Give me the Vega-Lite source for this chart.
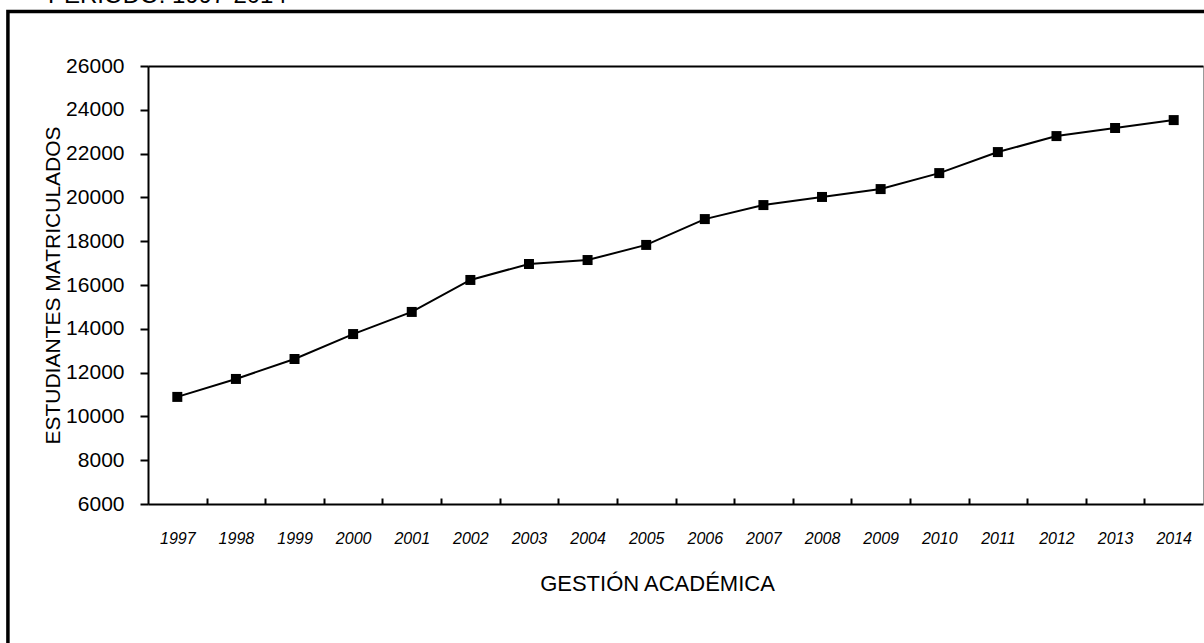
{
  "$schema": "https://vega.github.io/schema/vega-lite/v6.json",
  "width": 1055,
  "height": 438,
  "autosize": {"type": "none"},
  "padding": {"left": 148, "top": 66, "right": 1, "bottom": 139},
  "background": "white",
  "datasets": {
    "matricula": [
      {"Year": 1997, "Estudiantes": 10890},
      {"Year": 1998, "Estudiantes": 11710},
      {"Year": 1999, "Estudiantes": 12620},
      {"Year": 2000, "Estudiantes": 13760},
      {"Year": 2001, "Estudiantes": 14770},
      {"Year": 2002, "Estudiantes": 16230},
      {"Year": 2003, "Estudiantes": 16960},
      {"Year": 2004, "Estudiantes": 17140},
      {"Year": 2005, "Estudiantes": 17830},
      {"Year": 2006, "Estudiantes": 19010},
      {"Year": 2007, "Estudiantes": 19650},
      {"Year": 2008, "Estudiantes": 20020},
      {"Year": 2009, "Estudiantes": 20380},
      {"Year": 2010, "Estudiantes": 21110},
      {"Year": 2011, "Estudiantes": 22070},
      {"Year": 2012, "Estudiantes": 22800},
      {"Year": 2013, "Estudiantes": 23170},
      {"Year": 2014, "Estudiantes": 23530}
    ],
    "cabecera": [
      {"Texto": "PERIODO: 1997-2014"}
    ]
  },
  "layer": [
    {
      "data": {"name": "cabecera"},
      "mark": {"type": "rect", "fillOpacity": 0, "stroke": "black", "strokeWidth": 3.5, "clip": false},
      "encoding": {
        "x": {"datum": 1994.11, "type": "quantitative",
              "scale": {"domain": [1996.5, 2014.5], "nice": false, "zero": false},
              "axis": {"orient": "top", "labels": false, "ticks": false, "domain": true, "domainColor": "black", "domainWidth": 2, "title": null, "grid": false}},
        "x2": {"datum": 2016.5},
        "y": {"datum": 28489, "type": "quantitative",
              "scale": {"domain": [6000, 26000], "nice": false, "zero": false},
              "axis": null},
        "y2": {"datum": -4000}
      }
    },
    {
      "data": {"name": "cabecera"},
      "mark": {"type": "text", "align": "left", "baseline": "alphabetic", "fontSize": 24, "font": "Liberation Sans", "color": "black", "clip": false},
      "encoding": {
        "text": {"field": "Texto"},
        "x": {"datum": 1994.794, "type": "quantitative",
              "scale": {"domain": [1996.5, 2014.5], "nice": false, "zero": false},
              "axis": null},
        "y": {"datum": 28877, "type": "quantitative",
              "scale": {"domain": [6000, 26000], "nice": false, "zero": false},
              "axis": null}
      }
    },
    {
      "data": {"name": "matricula"},
      "mark": {"type": "line", "color": "black", "strokeWidth": 2},
      "encoding": {
        "x": {"field": "Year", "type": "quantitative",
              "scale": {"domain": [1996.5, 2014.5], "nice": false, "zero": false},
              "axis": {
                "orient": "bottom",
                "values": [1997, 1998, 1999, 2000, 2001, 2002, 2003, 2004, 2005, 2006, 2007, 2008, 2009, 2010, 2011, 2012, 2013, 2014],
                "format": "d",
                "ticks": false,
                "grid": false,
                "domainColor": "black",
                "domainWidth": 2,
                "labelFont": "Liberation Sans",
                "labelFontStyle": "italic",
                "labelFontSize": 16,
                "labelColor": "black",
                "labelPadding": 26,
                "labelFlush": false,
                "labelOverlap": false,
                "labelBound": false,
                "title": "GESTIÓN ACADÉMICA",
                "titleFont": "Liberation Sans",
                "titleFontSize": 22,
                "titleFontWeight": "normal",
                "titleColor": "black",
                "titlePadding": 27,
                "titleX": 509
              }},
        "y": {"field": "Estudiantes", "type": "quantitative",
              "scale": {"domain": [6000, 26000], "nice": false, "zero": false},
              "axis": {
                "orient": "left",
                "values": [6000, 8000, 10000, 12000, 14000, 16000, 18000, 20000, 22000, 24000, 26000],
                "format": "d",
                "grid": false,
                "domainColor": "black",
                "domainWidth": 2,
                "tickColor": "black",
                "tickWidth": 2,
                "tickSize": 8,
                "labelFont": "Liberation Sans",
                "labelFontSize": 21,
                "labelColor": "black",
                "labelPadding": 16,
                "labelFlush": false,
                "labelOverlap": false,
                "title": "ESTUDIANTES MATRICULADOS",
                "titleFont": "Liberation Sans",
                "titleFontSize": 21,
                "titleFontWeight": "normal",
                "titleColor": "black",
                "titlePadding": 2
              }}
      }
    },
    {
      "data": {"name": "matricula"},
      "mark": {"type": "point", "shape": "square", "filled": true, "size": 100, "color": "black", "opacity": 1},
      "encoding": {
        "x": {"field": "Year", "type": "quantitative",
              "scale": {"domain": [1996.5, 2014.5], "nice": false, "zero": false},
              "axis": {
                "orient": "bottom",
                "values": [1997.5, 1998.5, 1999.5, 2000.5, 2001.5, 2002.5, 2003.5, 2004.5, 2005.5, 2006.5, 2007.5, 2008.5, 2009.5, 2010.5, 2011.5, 2012.5, 2013.5],
                "labels": false,
                "domain": false,
                "grid": false,
                "tickColor": "black",
                "tickWidth": 2,
                "tickSize": -6,
                "title": null
              }},
        "y": {"field": "Estudiantes", "type": "quantitative",
              "scale": {"domain": [6000, 26000], "nice": false, "zero": false},
              "axis": null}
      }
    }
  ],
  "resolve": {"axis": {"x": "independent", "y": "independent"}},
  "config": {
    "view": {"stroke": "#9a9a9a", "strokeWidth": 1},
    "font": "Liberation Sans"
  }
}
